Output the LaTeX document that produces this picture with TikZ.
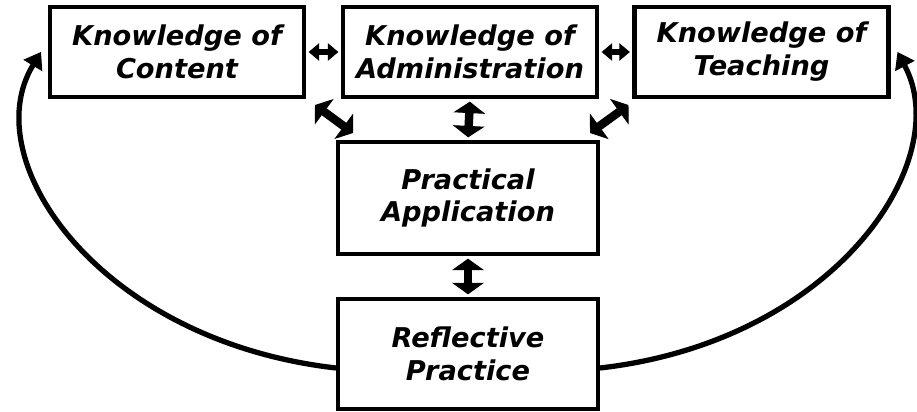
\documentclass[tikz,border=0pt]{standalone}
\usepackage{fontspec}
\setmainfont{DejaVu Sans}
\usetikzlibrary{arrows.meta,calc}

\begin{document}
\begin{tikzpicture}[
    box/.style={draw, line width=2.3pt, minimum width=5.08cm, minimum height=1.8cm, align=center,
        font=\fontsize{15.5}{18.7}\selectfont\bfseries\itshape},
    small arrow/.style={line width=3pt, {Triangle[length=6pt,width=10pt,line width=0.6pt]}-{Triangle[length=6pt,width=10pt,line width=0.6pt]}},
    big arrow/.style={line width=4.8pt, {Triangle[length=6.5pt,width=18pt,line width=0.6pt]}-{Triangle[length=6.5pt,width=18pt,line width=0.6pt]}},
    loop arrow/.style={line width=3pt, -{Triangle[length=9pt,width=12.5pt,line width=0.6pt]}}
]
    \useasboundingbox (0,0) rectangle (18.34,8.22);

    \node[box] (content) at (3.54,7.18) {Knowledge of\\Content};
    \node[box] (admin) at (9.4,7.18) {Knowledge of\\Administration};
    \node[box] (teaching) at (15.23,7.18) {Knowledge of\\Teaching};
    \node[box, minimum width=5.2cm, minimum height=2.24cm] (practical) at (9.36,4.26) {Practical\\Application};
    \node[box, minimum width=5.2cm, minimum height=2.2cm] (reflective) at (9.36,1.14) {Reflective\\Practice};

    \draw[small arrow, shorten <=1.5pt, shorten >=1.5pt] (content.east) -- (admin.west);
    \draw[small arrow, shorten <=1.5pt, shorten >=1.5pt] (admin.east) -- (teaching.west);

    \draw[big arrow, shorten <=1.5pt, shorten >=1.5pt] (admin.south) -- (practical.north);
    \draw[big arrow] ($(content.south east)+(0.18,-0.12)$) -- ($(practical.north west)+(0.34,0.14)$);
    \draw[big arrow] ($(teaching.south west)+(-0.08,-0.12)$) -- ($(practical.north east)+(-0.2,0.14)$);
    \draw[big arrow, shorten <=1.5pt, shorten >=1.5pt] (practical.south) -- (reflective.north);

    % feedback loops
    \draw[loop arrow] ($(reflective.west)+(0,-0.28)$) .. controls (2.0,1.4) and (-0.5,5.0) .. ($(content.west)+(-0.14,0)$);
    \draw[loop arrow] ($(reflective.east)+(0,-0.28)$) .. controls (16.72,1.4) and (19.1,5.0) .. ($(teaching.east)+(0.14,0)$);
\end{tikzpicture}
\end{document}
